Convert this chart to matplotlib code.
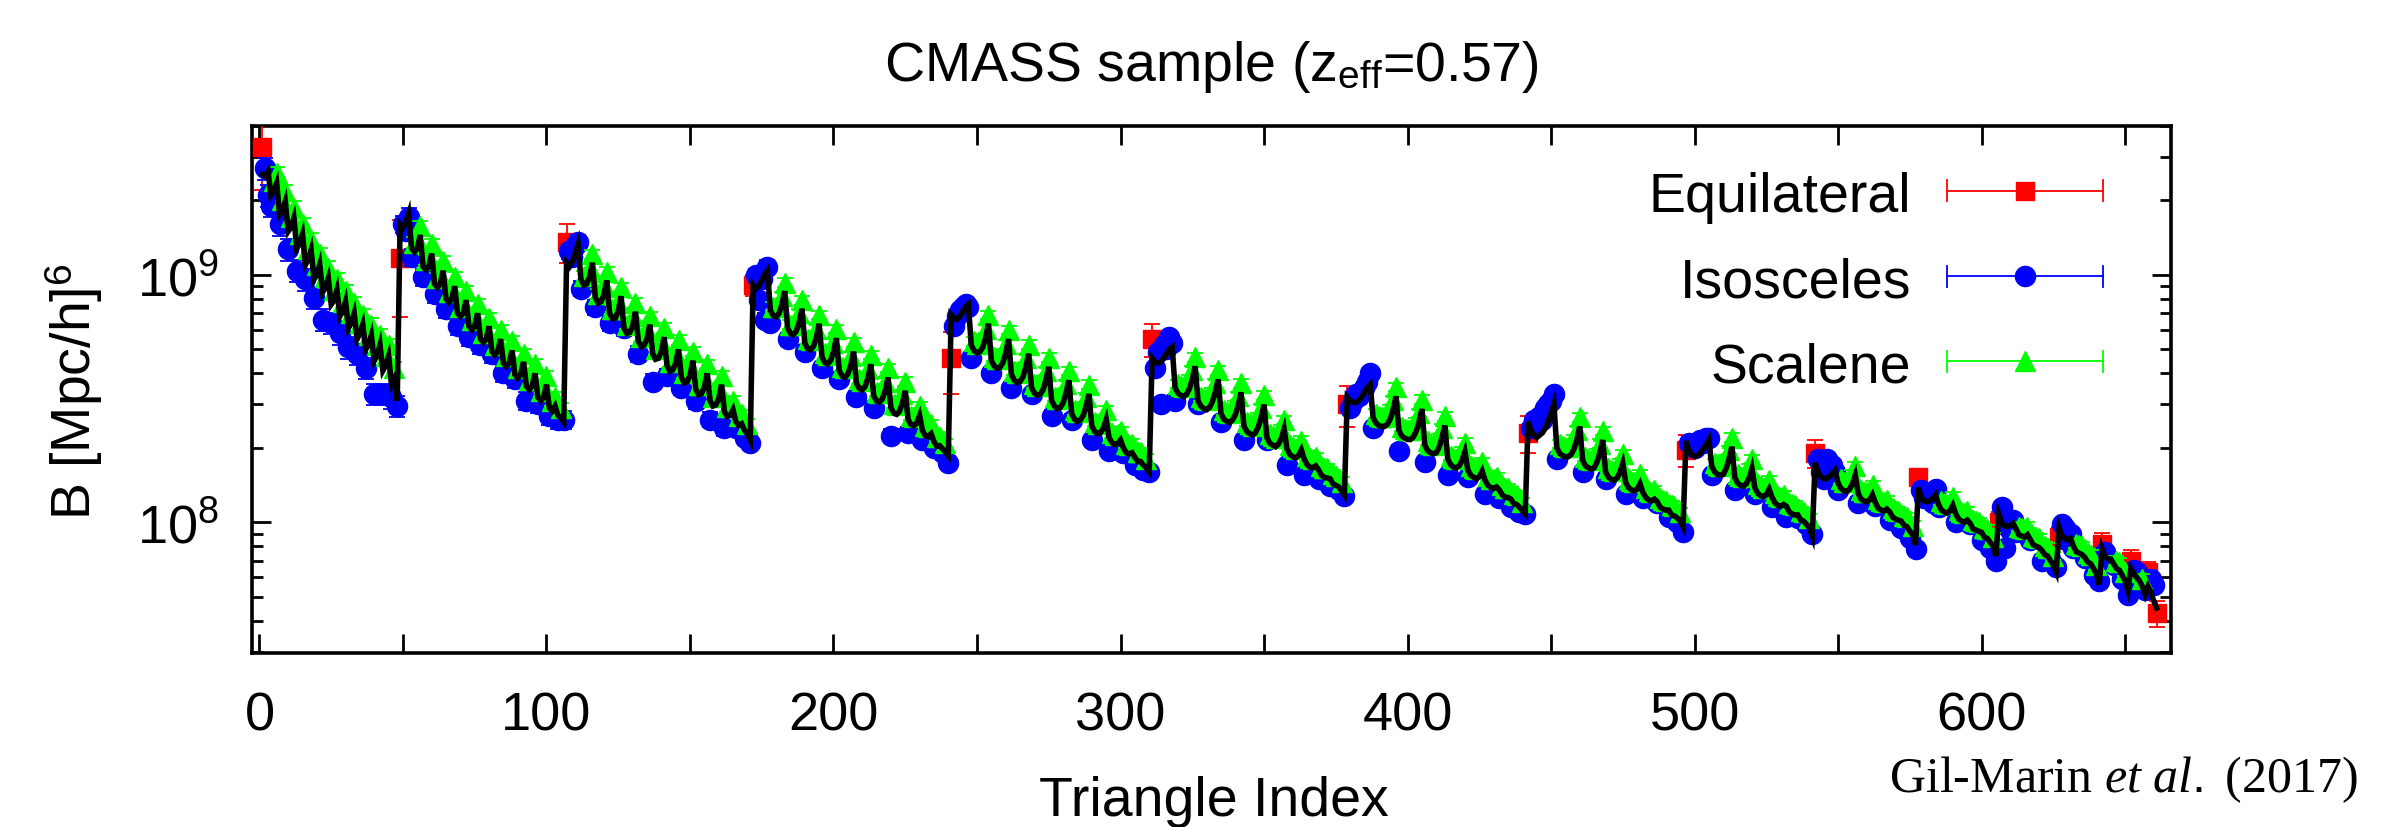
import numpy as np
import matplotlib
matplotlib.use("Agg")
import matplotlib.pyplot as plt
from matplotlib.ticker import MultipleLocator, FuncFormatter, LogLocator, NullFormatter

plt.rcParams['font.family'] = ['Liberation Sans', 'DejaVu Sans']
plt.rcParams['mathtext.fontset'] = 'custom'
plt.rcParams['mathtext.rm'] = 'Liberation Sans'
plt.rcParams['mathtext.it'] = 'Liberation Serif:italic'
plt.rcParams['mathtext.bf'] = 'Liberation Sans:bold'

# ---------------- data (values in units of 1e7 [Mpc/h]^6) ----------------
# 17 k-bins, k_i=(i+2)*0.01 h/Mpc; triangles ordered k1<=k2<=k3, one sub-list per (k1,k2)
N_BINS = 17

model0 = [[255,250,262],[210,218,235],[175,182,198],[150,156,170],[128,134,146],[110,115,126],[96,100,110],[85,89,97],[76,79,87],[68,71,78],[61,64,70],[55,58,63],[50,52,57],[45,47,52],[41,43,47],[36,38],[31]]
data0  = [[330,270,210],[190,240,258],[160,200,218],[127,172,187],[104,147,160],[96,127,139],[81,110,121],[66,98,107],[64,87,96],[58,78,86],[51,70,77],[48,64,69],[42,57,63],[33,52,57],[33,47,52],[32,42],[29.5]]

model1 = [[160,155,163,177],[128,124,128,145],[108,105,108,122],[92,89,92,104],[80,77.5,80,90],[70,68,70,79],[62,60,62,70],[55,53.4,55,62],[49,47.5,49,55],[44,42.7,44,49.5],[39.5,38.3,39.5,44.5],[35.5,34.4,35.5,40],[32,31,32,36],[29,28.2,29.5],[27,26.5],[25.5]]
data1  = [[117,160,150,172],[118,135,140,158],[98,115,118,133],[84,97,100,114],[73,85,88,98],[62,74,77,86],[56,66,68,76],[52,58,60,67],[48,52,54,60],[40,47,48,54],[38,42,43,48],[31,37.5,39,43.5],[30,34,35,39],[27,31,32],[26,29],[26]]

model2 = [[112,108,113,122,133],[96,91,92,98,112],[81,77,78,83,95],[70,66.5,67,71.5,82],[61,58,58.5,62,71],[54,51.3,52,55,63],[48,45.6,46,49,56],[43,40.8,41.3,43.9,50],[38.5,36.6,37,39.3,45],[34.5,32.8,33.1,35.2,40],[31,29.5,29.8,31.6,36],[28,26.8,27,28.5],[25.5,24.6,25],[23.5,22.8],[21.5]]
data2  = [[136,125,118,131,136],[88,99,101,107,121],[74,84,85,91,103],[64,72.5,73,78,89],[61,63,64,68,77],[48,56,57,60,68],[37,50,50.5,53.5,61],[39,44.5,45,48,54.5],[35,40,40.5,43,49],[31,36,36,38.5,43.5],[26,32,32.5,34.5,39],[24,29.2,29.5,31],[24,27,27.3],[22,25],[21]]

model3 = [[91,88,90,95,100,104],[72,68.4,67.7,69.8,75.6,86],[61,58,57.3,59.2,64,73],[53,50.4,49.8,51.4,55.7,63.5],[46.5,44.2,43.7,45.1,48.8,55.5],[41,39,38.5,39.8,43,49],[36.5,34.7,34.3,35.4,38.3,43.5],[32.5,30.9,30.6,31.5,34,38.5],[29,27.6,27.3,28.1,30.3,34],[26,24.8,24.5,25.2,27],[23.5,22.4,22.2,22.8],[21.2,20.3,20.4],[19.8,19.2],[18.6]]
data3  = [[91,100,79,96,66,108],[64,74.5,74,76,82,93],[55,63,62.5,64.5,70,79],[49,55,54.3,56,60.7,69],[42,48.2,47.6,49.2,53.2,60.5],[38,42.5,42,43.4,47,53.4],[32,37.8,37.4,38.6,41.7,47.4],[29,33.7,33.4,34.3,37,42],[22.4,30.1,29.8,30.6,33,37],[23,27,26.7,27.5,29.4],[21.6,24.4,24.2,24.9],[20,22.1,22.2],[19,20.9],[17.4]]

model4 = [[69,67,66,68,71,74,76],[52,49.4,48.4,48.9,51,55.6,63.5],[45,42.8,41.9,42.3,44.1,48.2,55],[39.5,37.5,36.7,37.1,38.7,42.3,48],[35,33.3,32.6,32.9,34.3,37.5,42.5],[31,29.5,28.8,29.1,30.4,33.2,37.5],[27.5,26.1,25.6,25.9,27,29.4,33],[24.5,23.3,22.8,23,24,26],[22,21,20.6,20.8,21.5],[20,19.1,18.9,19.1],[18.3,17.6,17.6],[17,16.6],[16]]
data4  = [[46,62,68,72,74,76,74],[46,53.8,52.8,53.3,55.6,60.6,69],[40,46.6,45.7,46.1,48.1,52.5,60],[35,40.9,40,40.4,42.2,46.1,52.3],[33,36.3,35.5,35.9,37.4,40.9,46.3],[27,32.2,31.4,31.7,33.1,36.2,40.9],[26,28.4,27.9,28.2,29.4,32,36],[21.5,25.4,24.9,25.1,26.2,28.3],[19.5,22.9,22.5,22.7,23.4],[19,20.8,20.6,20.8],[17,19.2,19.2],[16.2,18.1],[16]]

model5 = [[46,44.5,44,44.5,46,48,50,51],[35,33.3,32.6,32.2,32.9,34.7,37.8,42.7],[31,29.5,28.8,28.5,29.1,30.7,33.5,37.8],[27.5,26.1,25.6,25.3,25.9,27.2,29.7,33.5],[24.5,23.3,22.8,22.5,23,24.3,26.5,29.9],[22,20.9,20.5,20.2,20.7,21.8,23.8],[19.8,18.8,18.4,18.2,18.6,19.6],[18,17.1,16.7,16.6,16.9],[16.3,15.5,15.2,15.1],[15,14.3,14.1],[13.9,13.4],[12.9]]
data5  = [[55,42,49,30,52,50,56,53],[31,36.3,35.5,35.1,35.9,37.8,41.2,46.5],[30,32.2,31.4,31.1,31.7,33.5,36.5,41.2],[25.5,28.4,27.9,27.6,28.2,29.6,32.4,36.5],[21.5,25.4,24.9,24.5,25.1,26.5,28.9,32.6],[21.5,22.8,22.3,22,22.6,23.8,25.9],[17,20.5,20.1,19.8,20.3,21.4],[15.5,18.6,18.2,18.1,18.4],[15,16.9,16.6,16.5],[14,15.6,15.4],[13.5,14.6],[12.8]]

model6 = [[32,31,30.5,30.5,31,32,33.5,35,36],[26.5,25.2,24.6,24.4,24.4,24.9,26.2,28.6,32.3],[23.5,22.3,21.9,21.6,21.6,22.1,23.3,25.4,28.7],[20.5,19.5,19.1,18.9,19.1,20.1,22,24.6],[18,17.1,16.7,16.6,16.9,17.8,19.3],[16.3,15.5,15.2,15,15.3,16.1],[14.8,14.1,13.8,13.7,13.9],[13.5,12.9,12.6,12.6],[12.4,11.9,11.8],[11.5,11.1],[10.8]]
data6  = [[30,29,31,33,32.5,34,35,37,40],[24,27.5,26.8,26.6,26.6,27.1,28.6,31.2,35.2],[19.5,24.3,23.9,23.5,23.5,24.1,25.4,27.7,31.3],[17.5,21.3,20.8,20.6,20.8,21.9,24,26.8],[15.5,18.6,18.2,18.1,18.4,19.4,21],[15.2,16.9,16.6,16.4,16.7,17.5],[13,15.4,15,14.9,15.2],[12.5,14.1,13.7,13.7],[11.5,13,12.9],[11,12.1],[10.8]]

model7 = [[25.5,23.5,22.5,22,22.5,23,24,25.5,27.5,30],[20,19,18.6,18.4,18.4,18.8,19.8,21.6,24.4],[17.8,16.9,16.6,16.4,16.6,17.5,19.1,21.5],[16,15.2,14.9,14.8,15.1,15.9,17.3],[14.5,13.8,13.5,13.4,13.6,14.3],[13.2,12.6,12.3,12.2,12.4],[12.1,11.5,11.3,11.2],[11.2,10.7,10.6],[10.4,10.1],[9.6]]
data7  = [[23,24,26,25,27,26,29,30,31,33],[18,20.7,20.3,20.1,20.1,20.5,21.6,23.5,26.6],[16,18.4,18.1,17.9,18.1,19.1,20.8,23.4],[15,16.6,16.2,16.1,16.5,17.3,18.9],[13,15,14.7,14.6,14.8,15.6],[12.5,13.7,13.4,13.3,13.5],[12,12.5,12.3,12.2],[10.5,11.7,11.6],[10,11],[9.1]]

model8 = [[21.3,19.5,18.8,18.5,18.6,19,19.7,20.5,21.5],[16.8,16,15.6,15.5,15.6,16.5,18,20.2],[15.2,14.4,14.1,14,14.3,15.1,16.5],[13.8,13.1,12.8,12.7,12.9,13.6],[12.6,12,11.7,11.6,11.8],[11.6,11,10.8,10.7],[10.7,10.2,10.1],[9.8,9.5],[8.8]]
data8  = [[19.6,21,20.5,20,21,21.5,21,22,22],[15.5,17.4,17,16.9,17,18,19.6,22],[13.5,15.7,15.4,15.3,15.6,16.5,18],[13,14.3,14,13.8,14.1,14.8],[11.5,13.1,12.8,12.6,12.9],[10.5,12,11.8,11.7],[10.4,11.1,11],[9.8,10.4],[9.0]]

model9 = [[17.4,16,15.3,15,15,15.3,15.7,16.2],[14.4,13.7,13.4,13.3,13.6,14.3,15.5],[13.1,12.4,12.2,12.1,12.3,12.9],[12,11.4,11.2,11.1,11.3],[11,10.5,10.3,10.2],[10.1,9.7,9.6],[9.2,8.9],[8.1]]
data9  = [[19,18,16,15,18,15.5,17,16],[13.5,14.9,14.6,14.5,14.8,15.6,16.9],[12,13.5,13.3,13.2,13.4,14.1],[11.6,12.4,12.2,12.1,12.3],[10.2,11.4,11.2,11.1],[9.5,10.6,10.5],[8.6,9.7],[7.8]]

model10 = [[13.8,12.6,12.2,12.1,12.2,12.5,12.9],[11.8,11.2,11,10.9,11.1,11.7],[10.8,10.3,10.1,10,10.2],[9.9,9.4,9.3,9.2],[9.1,8.7,8.6],[8.3,8.0],[7.3]]
data10  = [[15.2,13.5,12.5,13,12.8,12,13.6],[11.5,12.2,12,11.9,12.1,12.7],[10,11.2,11,10.9,11.1],[9.8,10.2,10.1,10],[8.5,9.5,9.4],[7.9,8.7],[7.0]]

model11 = [[10.8,10.0,9.7,9.6,9.7,9.9],[9.4,8.9,8.8,8.7,8.9],[8.5,8.1,8.0,7.9],[7.7,7.4,7.3],[7.0,6.7],[6.3]]
data11  = [[10,11.5,7.9,10,9.3,10.2],[9.1,9.6,9.5,9.4,9.6],[8.5,8.8,8.7,8.6],[7.0,8.0,7.9],[7.1,7.3],[6.6]]

model12 = [[9.5,8.8,8.6,8.5,8.6],[8.0,7.6,7.5,7.4],[7.2,6.9,6.8],[6.5,6.2],[5.6]]
data12  = [[8.7,9.8,9.5,8.4,9.0],[7.9,8.2,8.1,8.0],[7.2,7.5,7.4],[6.1,6.7],[5.8]]

model13 = [[7.8,7.3,7.1,7.1],[6.8,6.5,6.4],[6.1,5.8],[5.3]]
data13  = [[8.2,7.6,7.2,7.0],[6.7,7.0,6.9],[5.9,6.3],[5.1]]

model14 = [[6.5,6.2,6.0],[5.8,5.5],[5.1]]
data14  = [[7.0,6.4,6.3],[5.7,5.9],[5.3]]

model15 = [[5.5,5.2],[4.8]]
data15  = [[6.3,5.9],[5.6]]

model16 = [[4.5]]
data16  = [[4.3]]

# relative 1-sigma errors per k1-block, for each triangle shape
err_eq  = [0.33,0.42,0.18,0.10,0.28,0.15,0.19,0.17,0.15,0.13,0.08,0.10,0.10,0.10,0.10,0.10,0.12]
err_iso = [0.10,0.08,0.07,0.06,0.05,0.05,0.05,0.05,0.05,0.05,0.05,0.05,0.05,0.05,0.06,0.06,0.06]
err_sca = [0.06,0.05,0.045,0.04,0.04,0.04,0.04,0.04,0.04,0.04,0.04,0.04,0.04,0.04,0.05,0.05,0.05]

title = 'CMASS sample (z$_{\\mathrm{eff}}$=0.57)'
xlabel = 'Triangle Index'
ylabel = 'B [Mpc/h]$^{6}$'
legend_labels = ['Equilateral', 'Isosceles', 'Scalene']
credit = 'Gil-Marin $\\mathit{et\\ al.}$ (2017)'

# ---------------- assemble ----------------
models = [model0, model1, model2, model3, model4, model5, model6, model7, model8,
          model9, model10, model11, model12, model13, model14, model15, model16]
datas = [data0, data1, data2, data3, data4, data5, data6, data7, data8,
         data9, data10, data11, data12, data13, data14, data15, data16]

tri = []
for a in range(N_BINS):
    for b in range(a, N_BINS):
        for c in range(b, min(N_BINS - 1, a + b + 2) + 1):
            tri.append((a, b, c))

model = np.array([v for seg in models for tooth in seg for v in tooth], float) * 1e7
data = np.array([v for seg in datas for tooth in seg for v in tooth], float) * 1e7
assert len(model) == len(tri) == len(data), (len(model), len(data), len(tri))
idx = np.arange(1, len(tri) + 1)
blk = np.array([t[0] for t in tri])
kind = np.array([0 if (t[0] == t[1] == t[2]) else (1 if (t[0] == t[1] or t[1] == t[2]) else 2)
                 for t in tri])
rel = np.where(kind == 0, np.array(err_eq)[blk],
               np.where(kind == 1, np.array(err_iso)[blk], np.array(err_sca)[blk]))
err = data * rel

# ---------------- figure ----------------
W, H = 2395, 828
fig = plt.figure(figsize=(W / 100, H / 100), dpi=100)
ax = fig.add_axes([252 / W, 1 - 654 / H, (2171 - 252) / W, (654 - 127) / H])

colors = ['#ff0000', '#0000ff', '#00ff00']
markers = ['s', 'o', '^']
msizes = [13.5, 14.5, 14]
for k in range(3):
    m = kind == k
    ax.errorbar(idx[m], data[m], yerr=err[m], fmt=markers[k], color=colors[k],
                mec=colors[k], mfc=colors[k], ms=msizes[k], elinewidth=1.3,
                capsize=5.5, capthick=1.3, zorder=3 + k)
ax.plot(idx, model, color='black', lw=4.0, zorder=10, solid_joinstyle='miter')

ax.set_yscale('log')
ax.set_xlim(-2.6, 666)
ax.set_ylim(2.96e7, 4.0e9)

ax.xaxis.set_major_locator(MultipleLocator(50))
ax.xaxis.set_major_formatter(FuncFormatter(lambda v, p: f'{int(round(v))}' if round(v) % 100 == 0 else ''))
ax.yaxis.set_major_locator(LogLocator(base=10, numticks=10))
ax.yaxis.set_minor_locator(LogLocator(base=10, subs=np.arange(2, 10), numticks=20))
ax.yaxis.set_minor_formatter(NullFormatter())

ax.tick_params(axis='both', which='major', direction='in', top=True, right=True,
               length=14, width=2.0, labelsize=39)
ax.tick_params(axis='x', which='major', pad=27)
ax.tick_params(axis='y', which='major', pad=24)
ax.tick_params(axis='y', which='minor', direction='in', right=True, length=8, width=2.0)
for s in ax.spines.values():
    s.set_linewidth(2.6)

# legend (gnuplot style: label left, horizontal error bar sample right)
leg_y = [0.877, 0.715, 0.554]
for k in range(3):
    yy = leg_y[k]
    ax.text(0.8645, yy, legend_labels[k], transform=ax.transAxes, ha='right',
            va='center_baseline', fontsize=40, zorder=20)
    ax.plot([0.8833, 0.9646], [yy, yy], transform=ax.transAxes, color=colors[k], lw=1.3, zorder=20)
    for xe in (0.8833, 0.9646):
        ax.plot([xe, xe], [yy - 0.02, yy + 0.02], transform=ax.transAxes, color=colors[k], lw=1.3, zorder=20)
    ax.plot([0.924], [yy], transform=ax.transAxes, marker=markers[k], ms=msizes[k],
            color=colors[k], zorder=21)

fig.text(0.5057, 1 - 81 / H, title, ha='center', va='baseline', fontsize=40)
fig.text(0.507, 1 - 816 / H, xlabel, ha='center', va='baseline', fontsize=40)
fig.text(74 / W, 1 - 392 / H, ylabel, ha='center', va='center', rotation=90, fontsize=40)
fig.text(2358 / W, 1 - 792 / H, credit, ha='right', va='baseline', fontsize=36,
         family=['Liberation Serif', 'DejaVu Serif'])

fig.savefig('out.png', dpi=100)
